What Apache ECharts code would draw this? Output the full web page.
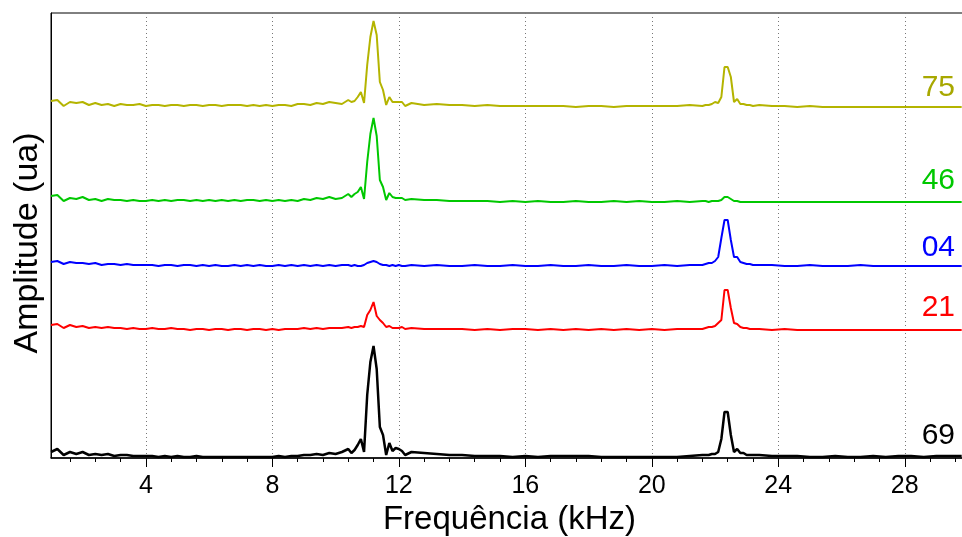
<!DOCTYPE html>
<html>
<head>
<meta charset="utf-8">
<script src="https://cdn.jsdelivr.net/npm/echarts@6/dist/echarts.min.js"></script>
<style>html,body{margin:0;padding:0;background:#fff}#c{width:962px;height:537px}</style>
</head>
<body>
<div id="c"></div>
<script>
// Frequency axis (kHz)
const freq = [
  1.0,1.2,1.4,1.6,1.8,2.0,2.2,2.4,2.6,2.8,3.0,3.2,3.4,3.6,3.8,4.0,4.2,4.4,4.6,4.8,5.0,5.2,5.4,5.6,5.8,6.0,6.2,6.4,6.6,6.8,7.0,7.2,7.4,7.6,7.8,8.0,8.2,8.4,8.6,8.8,9.0,9.2,9.4,9.6,9.8,10.0,10.2,10.4,
  10.5,10.6,10.7,10.8,10.9,11.0,11.1,11.2,11.3,11.4,11.5,11.6,11.7,11.8,11.9,12.0,12.1,12.2,
  12.4,12.8,13.2,13.6,14.0,14.4,14.8,15.2,15.6,16.0,16.4,16.8,17.2,17.6,18.0,18.4,18.8,19.2,19.6,20.0,20.4,20.8,21.2,21.6,
  21.7,21.8,21.9,22.0,22.1,22.2,22.3,22.4,22.5,22.6,22.7,22.8,22.9,23.0,23.1,23.2,
  23.4,23.8,24.2,24.6,25.0,25.4,25.8,26.2,26.6,27.0,27.4,27.8,28.2,28.6,29.0,29.4,29.8
];

// Amplitudes (ua) above each trace's own baseline
const amp75 = [
  6,7,1,5,4,5,2,4,2,3,1,3,2,2,3,1,2,2,1,2,2,1,2,2,1,2,2,1,2,2,2,1,2,1,2,1,2,2,1,3,3,2,4,3,5,4,3,7,
  5,6,10,15,4,42,70,86,72,25,17,2,10,5,5,5,5,1,
  4,2,3,2,2,1,2,1,1,1,1,1,1,0,1,1,0,1,1,1,1,1,2,1,
  2,2,3,5,4,10,40,40,30,5,8,3,3,2,2,1,
  2,1,1,0,1,0,0,0,0,0,0,0,0,0,0,0,0
];
const amp46 = [
  6,7,1,4,3,5,2,3,1,3,2,2,1,2,1,1,2,1,2,1,2,2,1,2,1,2,1,2,1,2,1,2,2,1,2,1,2,1,2,1,3,2,4,3,5,3,4,8,
  5,8,10,15,3,40,68,84,66,22,15,2,9,5,4,4,4,2,
  3,2,2,1,1,1,1,0,1,0,1,0,0,1,0,0,1,0,1,0,0,1,0,1,
  1,0,1,1,1,2,5,5,3,1,1,0,0,0,0,0,
  0,0,0,0,0,0,0,0,0,0,0,0,0,0,0,0,0
];
const amp04 = [
  4,5,2,4,3,3,2,3,1,2,2,1,2,1,1,1,1,0,1,1,0,1,1,0,1,0,1,0,0,1,0,1,0,1,0,0,1,0,1,0,1,0,1,0,1,0,1,1,
  0,1,0,0,1,3,4,5,4,2,1,1,0,1,0,1,0,0,
  1,0,1,0,0,1,0,0,1,0,0,1,0,0,1,0,0,1,0,0,1,0,1,1,
  2,3,3,5,9,28,46,46,26,9,9,4,3,2,2,1,
  1,1,0,0,1,0,0,0,1,0,0,0,0,0,0,0,0
];
const amp21 = [
  5,6,2,5,3,4,2,3,2,3,2,2,1,2,1,1,2,1,1,2,1,1,0,1,1,0,1,1,0,1,1,0,1,1,0,1,0,1,1,1,2,1,2,1,2,2,2,3,
  2,3,3,4,3,15,20,28,14,10,7,3,4,2,2,2,3,1,
  2,1,1,1,1,0,1,0,1,1,0,1,0,1,0,1,0,1,0,1,0,1,1,1,
  2,3,3,4,7,10,40,40,22,7,6,3,2,2,1,1,
  1,0,1,0,0,0,0,0,0,0,0,0,0,0,0,0,0
];
const amp69 = [
  5,8,2,5,3,5,2,3,2,3,1,2,2,1,1,1,1,0,1,0,1,0,0,1,0,0,0,0,0,0,0,0,0,0,0,0,1,0,1,1,2,2,3,2,4,3,5,8,
  4,7,12,18,5,62,95,111,88,30,22,2,14,6,9,8,6,2,
  5,4,3,2,2,1,1,1,0,1,0,1,1,1,1,0,0,0,0,0,0,0,1,2,
  2,2,3,3,5,18,45,45,22,5,8,4,4,2,2,2,
  2,1,1,1,0,0,1,0,0,1,0,1,1,0,1,1,1
];

// Vertical offset of each trace (stacked display)
const traceNames   = ['69', '21', '04', '46', '75'];
const traceOffsets = [1, 128, 192, 256, 351];
const traceAmps    = [amp69, amp21, amp04, amp46, amp75];
const traceColors  = ['#000000', '#ff0000', '#0000ff', '#00c800', '#b4b400'];
const labelColors  = ['#000000', '#ff0000', '#0000ff', '#00c800', '#a8a800'];
const labelY       = [436, 307.5, 247.5, 181, 88];

const majorTicks = [4, 8, 12, 16, 20, 24, 28];
const minorTicks = [1.6,2.4,3.2, 4.8,5.6,6.4,7.2, 8.8,9.6,10.4,11.2, 12.8,13.6,14.4,15.2,
                    16.8,17.6,18.4,19.2, 20.8,21.6,22.4,23.2, 24.8,25.6,26.4,27.2, 28.8,29.6];

const FONT = "'Liberation Sans', Arial, Helvetica, sans-serif";
const chart = echarts.init(document.getElementById('c'), null, {renderer: 'canvas'});

const series = traceNames.map((n, k) => ({
  name: n,
  type: 'line',
  xAxisIndex: 0,
  showSymbol: false,
  symbol: 'none',
  animation: false,
  lineStyle: {color: traceColors[k], width: k === 0 ? 2.5 : 2},
  data: freq.map((f, i) => [f, traceOffsets[k] + traceAmps[k][i]])
}));

const graphic = traceNames.map((n, k) => ({
  type: 'text',
  x: 955, y: labelY[k],
  style: {text: n, fill: labelColors[k],
          font: '30px ' + FONT, textAlign: 'right', textVerticalAlign: 'middle'}
}));
graphic.push({
  type: 'text',
  x: 28, y: 243, rotation: Math.PI / 2,
  style: {text: 'Amplitude (ua)', fill: '#000', font: '34px ' + FONT,
          textAlign: 'center', textVerticalAlign: 'middle'}
});

chart.setOption({
  animation: false,
  backgroundColor: '#fff',
  grid: {left: 51, top: 13, width: 917, height: 445, show: true,
         outerBoundsMode: 'none', containLabel: false,
         borderColor: '#000', borderWidth: 1, backgroundColor: 'transparent'},
  xAxis: [{
    type: 'value', min: 1, max: 30, position: 'bottom',
    axisLine: {show: true, lineStyle: {color: '#000', width: 1.5}},
    axisTick: {show: true, customValues: majorTicks, length: 9, lineStyle: {color: '#000', width: 1}},
    axisLabel: {show: true, customValues: majorTicks, fontSize: 25, color: '#000',
                fontFamily: FONT, margin: 16},
    splitLine: {show: true, lineStyle: {color: '#777', type: [1, 3], width: 1}},
    name: 'Frequência (kHz)', nameLocation: 'middle', nameGap: 43,
    nameTextStyle: {fontSize: 33, color: '#000', fontFamily: FONT}
  }, {
    type: 'value', min: 1, max: 30, position: 'bottom',
    axisLine: {show: false},
    axisTick: {show: true, customValues: minorTicks, length: 4, lineStyle: {color: '#000', width: 1}},
    axisLabel: {show: false},
    splitLine: {show: false}
  }],
  yAxis: {
    type: 'value', min: 0, max: 445,
    axisLine: {show: true, lineStyle: {color: '#000', width: 1}},
    axisTick: {show: false}, axisLabel: {show: false}, splitLine: {show: false}
  },
  graphic: graphic,
  series: series
});
</script>
</body>
</html>
